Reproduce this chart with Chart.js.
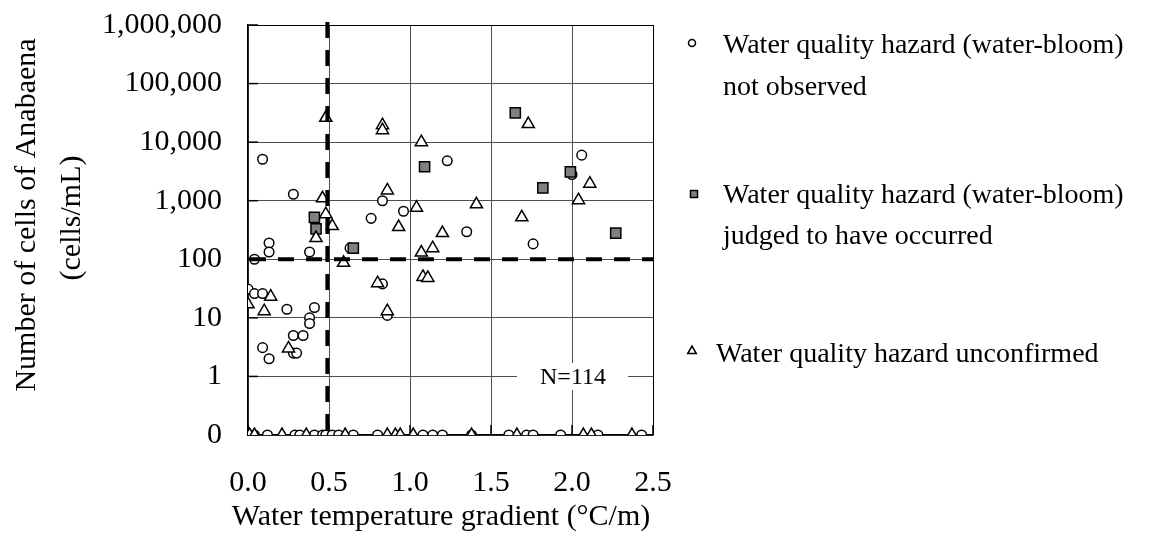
<!DOCTYPE html>
<html>
<head>
<meta charset="utf-8">
<script src="https://cdn.jsdelivr.net/npm/chart.js@4/dist/chart.umd.min.js"></script>
<style>
  html, body { margin: 0; padding: 0; background: #fff; }
  #wrap { width: 1168px; height: 540px; }
</style>
</head>
<body>
<div id="wrap"><canvas id="c" width="1168" height="540"></canvas></div>
<script>
// ---------------- data ----------------
const X_TICKS = [0, 0.5, 1.0, 1.5, 2.0, 2.5];
const Y_TICKS = [0.1, 1, 10, 100, 1000, 10000, 100000, 1000000];   // 0.1 is the "0" row
const ZERO_POS = 0.1;           // position at which zero counts are plotted
const X_THRESHOLD = 0.49;       // dashed vertical line
const Y_THRESHOLD = 100;        // dashed horizontal line
const N_LABEL = 'N=114';

const SERIES_NAMES = [
  ['Water quality hazard (water-bloom)', 'not observed'],
  ['Water quality hazard (water-bloom)', 'judged to have occurred'],
  ['Water quality hazard unconfirmed']
];

// Circles: water-bloom not observed
const notObsX = [0.09, 0.28, 0.83, 0.96, 0.76, 1.23, 2.06, 2.00, 1.35, 1.76,
                 0.13, 0.13, 0.38, 0.63, 0.04, 0.83, 0.86, 0.00, 0.04, 0.09,
                 0.24, 0.41, 0.38, 0.38, 0.28, 0.34, 0.28, 0.30, 0.09, 0.13,
                 0.04, 0.12, 0.29, 0.32, 0.41, 0.46, 0.48, 0.52, 0.56, 0.65,
                 0.80, 1.08, 1.14, 1.20, 1.38, 1.61, 1.72, 1.76, 1.93, 2.16, 2.43];
const notObsY = [5100, 1290, 1000, 660, 500, 4800, 6000, 2800, 295, 183,
                 190, 133, 133, 155, 100, 38, 11, 31, 26, 26,
                 14, 15, 10, 8, 5, 5, 2.5, 2.5, 3.1, 2,
                 0, 0, 0, 0, 0, 0, 0, 0, 0, 0,
                 0, 0, 0, 0, 0, 0, 0, 0, 0, 0, 0];

// Squares: water-bloom judged to have occurred
const occurredX = [0.41, 0.42, 0.65, 1.09, 1.65, 1.99, 1.82, 2.27];
const occurredY = [520, 330, 155, 3800, 31600, 3100, 1660, 280];

// Triangles: hazard unconfirmed
const unconfX = [0.48, 0.83, 0.83, 1.07, 0.46, 0.86, 1.04, 0.93, 0.48, 0.52,
                 0.42, 1.73, 2.11, 2.04, 1.41, 1.69, 1.20, 1.14, 1.07, 1.08,
                 1.11, 0.59, 0.80, 0.86, 0.14, 0.00, 0.10, 0.25,
                 0.01, 0.04, 0.21, 0.36, 0.60, 0.86, 0.91, 0.94, 1.02, 1.38,
                 1.66, 2.07, 2.12, 2.37];
const unconfY = [26000, 19500, 16000, 10000, 1100, 1500, 760, 355, 590, 370,
                 230, 20400, 1950, 1020, 870, 520, 280, 155, 130, 50,
                 48, 87, 39, 13, 23, 17, 13, 3,
                 0, 0, 0, 0, 0, 0, 0, 0, 0, 0,
                 0, 0, 0, 0];

// ---------------- chart ----------------
const toPts = (xs, ys) => xs.map((x, i) => ({ x: x, y: ys[i] === 0 ? ZERO_POS : ys[i] }));
const SERIF = '"Liberation Serif", "Times New Roman", serif';
const GRID = '#4d4d4d';

function drawMarker(ctx, style, x, y, r, fill) {
  ctx.save();
  ctx.lineWidth = 1.5;
  ctx.strokeStyle = '#000';
  ctx.fillStyle = fill;
  ctx.beginPath();
  if (style === 'circle') {
    ctx.arc(x, y, r, 0, Math.PI * 2);
  } else if (style === 'rect') {
    ctx.rect(x - r, y - r, 2 * r, 2 * r);
  } else {
    ctx.moveTo(x, y - r);
    ctx.lineTo(x + r * 0.866, y + r * 0.5);
    ctx.lineTo(x - r * 0.866, y + r * 0.5);
    ctx.closePath();
  }
  ctx.fill();
  ctx.stroke();
  ctx.restore();
}

const decor = {
  id: 'decor',
  beforeDatasetsDraw(chart) {
    const { ctx, chartArea: a, scales: { x, y } } = chart;
    ctx.save();
    // inside tick marks
    ctx.strokeStyle = '#000';
    ctx.lineWidth = 1.5;
    Y_TICKS.forEach(v => {
      const py = y.getPixelForValue(v);
      ctx.beginPath(); ctx.moveTo(a.left, py); ctx.lineTo(a.left + 10, py); ctx.stroke();
    });
    X_TICKS.forEach(v => {
      const px = x.getPixelForValue(v);
      ctx.beginPath(); ctx.moveTo(px, a.bottom); ctx.lineTo(px, a.bottom - 10); ctx.stroke();
    });
    // N label box
    ctx.fillStyle = '#fff';
    ctx.fillRect(517, 363, 111, 27);
    ctx.fillStyle = '#000';
    ctx.font = '24px ' + SERIF;
    ctx.textAlign = 'center';
    ctx.textBaseline = 'middle';
    ctx.fillText(N_LABEL, 573, 378);
    ctx.restore();
  },
  afterDatasetsDraw(chart) {
    const { ctx, chartArea: a, scales: { x, y } } = chart;
    ctx.save();
    ctx.strokeStyle = '#000';
    ctx.lineWidth = 4;
    ctx.setLineDash([16, 12]);
    const px = x.getPixelForValue(X_THRESHOLD);
    ctx.beginPath(); ctx.moveTo(px, a.top - 3); ctx.lineTo(px, a.bottom + 4); ctx.stroke();
    const py = y.getPixelForValue(Y_THRESHOLD);
    ctx.beginPath(); ctx.moveTo(a.left + 2, py); ctx.lineTo(a.right, py); ctx.stroke();
    ctx.restore();
  },
  afterDraw(chart) {
    const { ctx } = chart;
    ctx.save();
    ctx.fillStyle = '#000';
    // axis titles
    ctx.font = '30px ' + SERIF;
    ctx.textAlign = 'center';
    ctx.textBaseline = 'middle';
    ctx.fillText('Water temperature gradient (°C/m)', 441, 517);
    ctx.save();
    ctx.translate(27, 215);
    ctx.rotate(-Math.PI / 2);
    ctx.fillText('Number of cells of Anabaena', 0, 0);
    ctx.restore();
    ctx.save();
    ctx.translate(72, 218);
    ctx.rotate(-Math.PI / 2);
    ctx.fillText('(cells/mL)', 0, 0);
    ctx.restore();
    // legend
    ctx.font = '28px ' + SERIF;
    ctx.textAlign = 'left';
    ctx.textBaseline = 'alphabetic';
    drawMarker(ctx, 'circle', 692, 43, 3.5, '#fff');
    ctx.fillText(SERIES_NAMES[0][0], 723, 53);
    ctx.fillText(SERIES_NAMES[0][1], 723, 95);
    drawMarker(ctx, 'rect', 694, 194, 3.5, '#808080');
    ctx.fillText(SERIES_NAMES[1][0], 723, 203);
    ctx.fillText(SERIES_NAMES[1][1], 723, 244);
    drawMarker(ctx, 'triangle', 692, 351, 5, '#fff');
    ctx.fillText(SERIES_NAMES[2][0], 716, 362);
    ctx.restore();
  }
};

new Chart(document.getElementById('c'), {
  type: 'scatter',
  data: {
    datasets: [
      { label: SERIES_NAMES[2].join(' '), data: toPts(unconfX, unconfY), order: 0,
        pointStyle: 'triangle', radius: 7, backgroundColor: '#fff', borderColor: '#000', borderWidth: 1.5 },
      { label: SERIES_NAMES[1].join(' '), data: toPts(occurredX, occurredY), order: 1,
        pointStyle: 'rect', radius: 7.2, backgroundColor: '#808080', borderColor: '#000', borderWidth: 1.5 },
      { label: SERIES_NAMES[0].join(' '), data: toPts(notObsX, notObsY), order: 2,
        pointStyle: 'circle', radius: 4.8, backgroundColor: '#fff', borderColor: '#000', borderWidth: 1.5 }
    ]
  },
  options: {
    responsive: false,
    animation: false,
    devicePixelRatio: 1,
    layout: { padding: { left: 0, top: 25, right: 515, bottom: 0 } },
    plugins: { legend: { display: false }, tooltip: { enabled: false } },
    elements: { point: { hoverRadius: 7 } },
    scales: {
      x: {
        type: 'linear', min: 0, max: 2.5,
        afterBuildTicks: s => { s.ticks = X_TICKS.map(v => ({ value: v })); },
        afterFit: s => { s.height = 105; s.paddingLeft = 0; s.paddingRight = 0; },
        ticks: { color: '#000', font: { family: SERIF, size: 30 }, padding: 30,
                 maxRotation: 0, autoSkip: false, callback: v => Number(v).toFixed(1) },
        grid: { drawTicks: false, lineWidth: 1, color: c => (c.tick && c.tick.value === 2.5) ? '#000' : GRID },
        border: { display: true, color: '#000', width: 1.5 }
      },
      y: {
        type: 'logarithmic', min: 0.1, max: 1000000,
        afterBuildTicks: s => { s.ticks = Y_TICKS.map(v => ({ value: v })); },
        afterFit: s => { s.width = 248; s.paddingTop = 0; s.paddingBottom = 0; },
        ticks: { color: '#000', font: { family: SERIF, size: 30 }, padding: 26, autoSkip: false,
                 callback: v => v === ZERO_POS ? '0' : Number(v).toLocaleString('en-US') },
        grid: { drawTicks: false, lineWidth: 1, color: c => (c.tick && c.tick.value === 1000000) ? '#000' : GRID },
        border: { display: true, color: '#000', width: 1.5 }
      }
    }
  },
  plugins: [decor]
});
</script>
</body>
</html>
